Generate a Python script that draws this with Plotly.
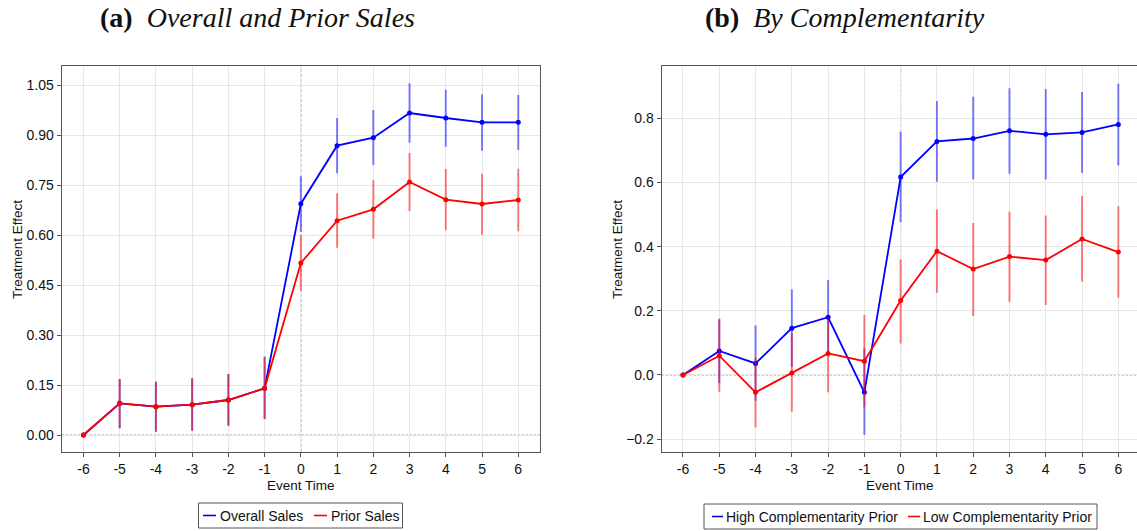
import plotly.graph_objects as go

# ---- data -------------------------------------------------------------
event_time = [-6, -5, -4, -3, -2, -1, 0, 1, 2, 3, 4, 5, 6]

# Panel (a): overall vs prior sales
overall_est = [0.0, 0.095, 0.085, 0.091, 0.105, 0.140, 0.694, 0.868, 0.892, 0.966, 0.951, 0.938, 0.938]
overall_lo = [0.0, 0.020, 0.010, 0.013, 0.028, 0.048, 0.610, 0.785, 0.810, 0.877, 0.865, 0.853, 0.855]
overall_hi = [0.0, 0.168, 0.160, 0.170, 0.183, 0.235, 0.776, 0.951, 0.975, 1.055, 1.036, 1.022, 1.020]

prior_est = [0.0, 0.095, 0.085, 0.091, 0.105, 0.140, 0.516, 0.643, 0.677, 0.759, 0.706, 0.693, 0.705]
prior_lo = [0.0, 0.020, 0.010, 0.013, 0.028, 0.048, 0.433, 0.562, 0.589, 0.672, 0.615, 0.601, 0.611]
prior_hi = [0.0, 0.168, 0.160, 0.170, 0.183, 0.235, 0.600, 0.725, 0.764, 0.846, 0.798, 0.784, 0.799]

# Panel (b): by complementarity of the prior
high_est = [0.0, 0.075, 0.036, 0.146, 0.180, -0.054, 0.617, 0.728, 0.737, 0.761, 0.750, 0.756, 0.781]
high_lo = [0.0, -0.025, -0.080, 0.026, 0.065, -0.187, 0.476, 0.602, 0.610, 0.627, 0.609, 0.630, 0.653]
high_hi = [0.0, 0.175, 0.154, 0.267, 0.296, 0.083, 0.758, 0.854, 0.867, 0.894, 0.891, 0.882, 0.908]

low_est = [0.0, 0.060, -0.054, 0.006, 0.067, 0.043, 0.232, 0.386, 0.330, 0.369, 0.358, 0.424, 0.383]
low_lo = [0.0, -0.052, -0.164, -0.114, -0.054, -0.100, 0.098, 0.256, 0.184, 0.228, 0.218, 0.291, 0.241]
low_hi = [0.0, 0.173, 0.054, 0.130, 0.180, 0.187, 0.360, 0.516, 0.474, 0.509, 0.497, 0.558, 0.526]

ticks_a = [0.0, 0.15, 0.30, 0.45, 0.60, 0.75, 0.90, 1.05]
ticks_b = [-0.2, 0.0, 0.2, 0.4, 0.6, 0.8]

# ---- styling ------------------------------------------------------------
W, H = 1137, 531
SANS = "Liberation Sans, Arial, sans-serif"
SERIF = "Liberation Serif, Times New Roman, serif"
BLUE, RED = "#0000ff", "#ff0000"
BLUE_CI, RED_CI = "rgba(0,0,255,0.5)", "rgba(255,0,0,0.5)"
AXIS_COL = "#555555"
GRID_COL = "#e6e6e6"

fig = go.Figure()


def add_series(x, est, lo, hi, color, ci_color, xa, ya):
    fig.add_trace(go.Scatter(
        x=x, y=est, mode="lines+markers",
        line=dict(color=color, width=1.8),
        marker=dict(color=color, size=5),
        error_y=dict(type="data", symmetric=False,
                     array=[h - e for h, e in zip(hi, est)],
                     arrayminus=[e - l for e, l in zip(est, lo)],
                     color=ci_color, thickness=2, width=0),
        xaxis=xa, yaxis=ya, showlegend=False, hoverinfo="skip",
    ))


add_series(event_time, overall_est, overall_lo, overall_hi, BLUE, BLUE_CI, "x", "y")
add_series(event_time, prior_est, prior_lo, prior_hi, RED, RED_CI, "x", "y")
add_series(event_time, high_est, high_lo, high_hi, BLUE, BLUE_CI, "x2", "y2")
add_series(event_time, low_est, low_lo, low_hi, RED, RED_CI, "x2", "y2")

y_dom = [1 - 452 / H, 1 - 66 / H]
xa_dom = [61.7 / W, 540 / W]
xb_dom = [661.7 / W, 1.0]

common_x = dict(
    tickmode="array", tickvals=event_time, ticktext=[str(v) for v in event_time],
    showgrid=True, gridcolor=GRID_COL, gridwidth=1, zeroline=False,
    showline=True, linecolor=AXIS_COL, linewidth=1.2,
    ticks="outside", ticklen=4, tickcolor=AXIS_COL,
    tickfont=dict(family=SANS, size=14, color="#111"),
)
common_y = dict(
    showgrid=True, gridcolor=GRID_COL, gridwidth=1, zeroline=False,
    showline=True, linecolor=AXIS_COL, linewidth=1.2,
    ticks="outside", ticklen=4, tickcolor=AXIS_COL,
    tickfont=dict(family=SANS, size=14, color="#111"),
)

fig.update_layout(
    width=W, height=H, margin=dict(l=0, r=0, t=0, b=0),
    paper_bgcolor="white", plot_bgcolor="white",
    xaxis=dict(common_x, domain=xa_dom, range=[-6.6, 6.6], anchor="y", mirror=True),
    yaxis=dict(common_y, domain=y_dom, range=[-0.051, 1.107], anchor="x", mirror=True,
               tickvals=ticks_a, ticktext=[f"{v:.2f}" for v in ticks_a]),
    xaxis2=dict(common_x, domain=xb_dom, range=[-6.587, 6.515], anchor="y2", mirror=True),
    yaxis2=dict(common_y, domain=y_dom, range=[-0.240, 0.963], anchor="x2", mirror=False,
                tickvals=ticks_b, ticktext=[f"{v:.1f}".replace("-", "\u2212") for v in ticks_b]),
)

# reference lines at zero effect and at event time zero
for xr, yr in (("x", "y"), ("x2", "y2")):
    fig.add_shape(type="line", xref=f"{xr} domain", yref=yr, x0=0, x1=1, y0=0, y1=0,
                  line=dict(color="#8c8c8c", width=1, dash="2px,2px"), layer="below")
    fig.add_shape(type="line", xref=xr, yref=f"{yr} domain", x0=0, x1=0, y0=0, y1=1,
                  line=dict(color="#777777", width=1, dash="3px,2px"), layer="below")


def text_at(txt, px, py, size, family=SANS, anchor="center", angle=0):
    fig.add_annotation(text=txt, xref="paper", yref="paper",
                       x=px / W, y=1 - py / H, xanchor=anchor, yanchor="middle",
                       showarrow=False, textangle=angle,
                       font=dict(family=family, size=size, color="#111"))


# panel titles
text_at("<b>(a)</b>  <i>Overall and Prior Sales</i>", 257, 17, 28, SERIF)
text_at("<b>(b)</b>  <i>By Complementarity</i>", 845, 17, 28, SERIF)

# axis titles
for xc in (17, 617):
    text_at("Treatment Effect", xc, 250, 13.5, angle=-90)
for xc in (301, 900):
    text_at("Event Time", xc, 485, 13.5)


# legends: a framed box with short coloured line keys
def legend_box(x0, x1, y0, y1, entries):
    fig.add_shape(type="rect", xref="paper", yref="paper",
                  x0=x0 / W, x1=x1 / W, y0=1 - y1 / H, y1=1 - y0 / H,
                  line=dict(color=AXIS_COL, width=1), fillcolor="white")
    yc = (y0 + y1) / 2
    for name, color, lx0, lx1, tx in entries:
        fig.add_shape(type="line", xref="paper", yref="paper",
                      x0=lx0 / W, x1=lx1 / W, y0=1 - yc / H, y1=1 - yc / H,
                      line=dict(color=color, width=1.6))
        text_at(name, tx, yc, 14, anchor="left")


legend_box(198.5, 402.5, 503, 528, [("Overall Sales", BLUE, 203, 216, 218),
                                    ("Prior Sales", RED, 314, 327, 329)])
legend_box(704, 1097, 504, 529, [("High Complementarity Prior", BLUE, 712, 723, 724),
                                 ("Low Complementarity Prior", RED, 908, 920, 921)])

fig.write_html("out.html")
